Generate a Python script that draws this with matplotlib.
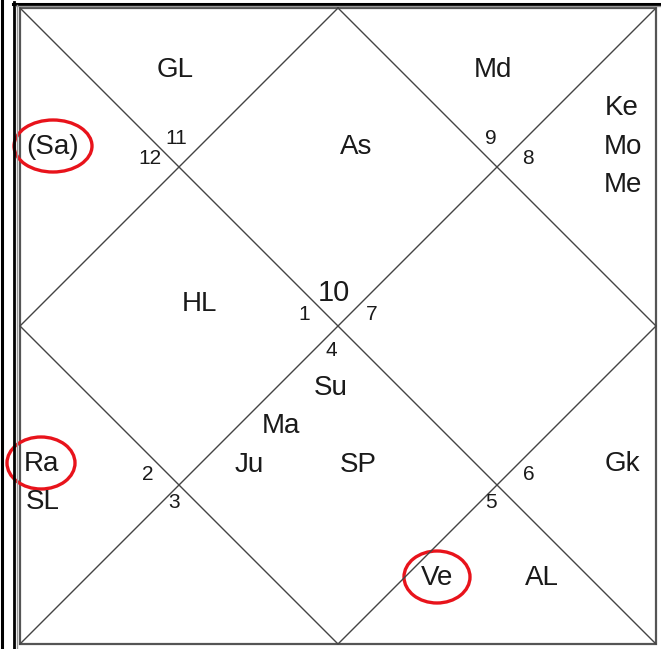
import matplotlib.pyplot as plt
from matplotlib.patches import Ellipse, Rectangle

plt.rcParams['font.family'] = ['Liberation Sans', 'DejaVu Sans']

# sign number shown in each house (houses 1..12, North Indian layout)
sign_numbers = [10, 11, 12, 1, 2, 3, 4, 5, 6, 7, 8, 9]
# bodies in the chart
bodies = ["As", "GL", "(Sa)", "HL", "Ra", "SL", "Su", "Ma", "Ju", "SP",
          "Ve", "AL", "Gk", "Ke", "Mo", "Me", "Md"]
circled = ["(Sa)", "Ra", "Ve"]

# layout (pixel coords of the picture)
L, R, T, B = 20, 656, 8, 644
cx, cy = (L + R) / 2, (T + B) / 2
num_pos = [(334, 293), (176, 138), (150, 159), (304, 315), (148, 475), (174, 502),
           (331, 351), (491, 502), (529, 475), (372, 315), (528, 159), (491, 139)]
body_pos = {"As": (356, 147), "GL": (175, 70), "(Sa)": (53, 147), "HL": (199, 304),
            "Ra": (41, 464), "SL": (43, 502), "Su": (331, 388), "Ma": (281, 426),
            "Ju": (249, 465), "SP": (358, 465), "Ve": (437, 578), "AL": (542, 578),
            "Gk": (622, 464), "Ke": (622, 108), "Mo": (623, 147), "Me": (623, 185),
            "Md": (493, 70)}
ring_size = {"(Sa)": (78, 52), "Ra": (68, 52), "Ve": (66, 52)}

fig = plt.figure(figsize=(6.61, 6.49), dpi=100)
ax = fig.add_axes([0, 0, 1, 1])
ax.set_xlim(0, 661)
ax.set_ylim(649, 0)
ax.axis('off')

# outer double border
ax.plot([1.5, 1.5], [0, 649], color='black', lw=2.2)
ax.plot([14, 14], [2, 649], color='black', lw=2.0)
ax.plot([13, 661], [3.5, 3.5], color='black', lw=2.2)
ax.plot([16.5, 16.5], [5, 649], color='#999999', lw=1.0)
ax.plot([16, 661], [6, 6], color='#999999', lw=1.0)

# chart frame, diagonals and inner diamond
line_kw = dict(color='#444444', lw=1.0)
ax.add_patch(Rectangle((L, T), R - L, B - T, fill=False, ec='#555555', lw=1.6))
ax.plot([L, R], [T, B], **line_kw)
ax.plot([L, R], [B, T], **line_kw)
ax.plot([cx, L, cx, R, cx], [T, cy, B, cy, T], **line_kw)

for n, (x, y) in zip(sign_numbers, num_pos):
    fs = 21 if n == sign_numbers[0] else 15
    ax.text(x, y, str(n), fontsize=fs, ha='center', va='center', color='#1a1a1a')

for b in bodies:
    x, y = body_pos[b]
    ax.text(x, y, b, fontsize=20, ha='center', va='center', color='#1a1a1a')
    if b in circled:
        w, h = ring_size[b]
        ax.add_patch(Ellipse((x, y - 1), w, h, fill=False, ec='#e8131b', lw=2.4))

fig.savefig('out.png', dpi=100)
